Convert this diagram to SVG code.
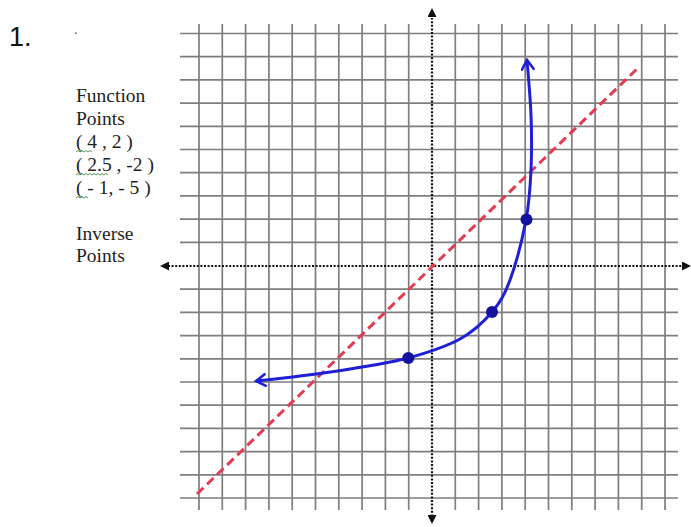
<svg xmlns="http://www.w3.org/2000/svg" width="691" height="527" viewBox="0 0 691 527">
<defs>
<style>
.grid line{stroke:#7e7e7e;stroke-width:1.7}
.axis{stroke:#111;stroke-width:2.2;stroke-dasharray:2 1.6;fill:none}
.lbl{font-family:"Liberation Serif","Times New Roman",serif;font-size:19.5px;fill:#1e1e1e}
.sq{stroke:#4f9a4f;stroke-width:1;fill:none}
</style>
<marker id="ah" viewBox="0 0 10 10" refX="10" refY="5" markerWidth="9" markerHeight="9" markerUnits="userSpaceOnUse" orient="auto"><path d="M0,0 L10,5 L0,10 Z" fill="#111"/></marker>
<marker id="bh" viewBox="0 0 12 12" refX="10" refY="6" markerWidth="14" markerHeight="14" markerUnits="userSpaceOnUse" orient="auto-start-reverse"><path d="M2,1 L10,6 L2,11" fill="none" stroke="#1f1fd6" stroke-width="2.2" stroke-linecap="round"/></marker>
</defs>
<rect width="691" height="527" fill="#fff"/>
<g id="grid" class="grid">
<line x1="199" y1="24" x2="199" y2="510"/><line x1="222.3" y1="24" x2="222.3" y2="510"/><line x1="245.6" y1="24" x2="245.6" y2="510"/><line x1="268.9" y1="24" x2="268.9" y2="510"/><line x1="292.2" y1="24" x2="292.2" y2="510"/><line x1="315.5" y1="24" x2="315.5" y2="510"/><line x1="338.8" y1="24" x2="338.8" y2="510"/><line x1="362.1" y1="24" x2="362.1" y2="510"/><line x1="385.4" y1="24" x2="385.4" y2="510"/><line x1="408.7" y1="24" x2="408.7" y2="510"/>
<line x1="455.3" y1="24" x2="455.3" y2="510"/><line x1="478.6" y1="24" x2="478.6" y2="510"/><line x1="501.9" y1="24" x2="501.9" y2="510"/><line x1="525.2" y1="24" x2="525.2" y2="510"/><line x1="548.5" y1="24" x2="548.5" y2="510"/><line x1="571.8" y1="24" x2="571.8" y2="510"/><line x1="595.1" y1="24" x2="595.1" y2="510"/><line x1="618.4" y1="24" x2="618.4" y2="510"/><line x1="641.7" y1="24" x2="641.7" y2="510"/><line x1="665" y1="24" x2="665" y2="510"/>
<line x1="180" y1="33.5" x2="678" y2="33.5"/><line x1="180" y1="56.7" x2="678" y2="56.7"/><line x1="180" y1="79.9" x2="678" y2="79.9"/><line x1="180" y1="103.1" x2="678" y2="103.1"/><line x1="180" y1="126.3" x2="678" y2="126.3"/><line x1="180" y1="149.5" x2="678" y2="149.5"/><line x1="180" y1="172.7" x2="678" y2="172.7"/><line x1="180" y1="195.9" x2="678" y2="195.9"/><line x1="180" y1="219.1" x2="678" y2="219.1"/><line x1="180" y1="242.3" x2="678" y2="242.3"/>
<line x1="180" y1="289.2" x2="678" y2="289.2"/><line x1="180" y1="312.4" x2="678" y2="312.4"/><line x1="180" y1="335.6" x2="678" y2="335.6"/><line x1="180" y1="358.8" x2="678" y2="358.8"/><line x1="180" y1="382" x2="678" y2="382"/><line x1="180" y1="405.2" x2="678" y2="405.2"/><line x1="180" y1="428.4" x2="678" y2="428.4"/><line x1="180" y1="451.6" x2="678" y2="451.6"/><line x1="180" y1="474.8" x2="678" y2="474.8"/><line x1="180" y1="498" x2="678" y2="498"/>
</g>
<g id="axes">
<line class="axis" x1="432" y1="520" x2="432" y2="18"/>
<line x1="432" y1="20" x2="432" y2="8" stroke="none" marker-end="url(#ah)"/>
<line x1="432" y1="512" x2="432" y2="524" stroke="none" marker-end="url(#ah)"/>
<line class="axis" x1="168" y1="266" x2="684" y2="266"/>
<line x1="172" y1="266" x2="160" y2="266" stroke="none" marker-end="url(#ah)"/>
<line x1="679" y1="266" x2="691" y2="266" stroke="none" marker-end="url(#ah)"/>
</g>
<g id="connectors">
<line id="inverse-line" x1="197" y1="494" x2="640" y2="66" stroke="#e23b52" stroke-width="3" stroke-dasharray="9 5"/>
<path id="function-curve" d="M256,381 C263.3,380.2 284.3,378 300,376 C315.7,374 332,372 350,369 C368,366 389.7,363 408,358 C426.3,353 446,346.7 460,339 C474,331.3 483.7,321.8 492,312 C500.3,302.2 504.3,295.3 510,280 C515.7,264.7 522.5,238.3 526,220 C529.5,201.7 530.2,187.5 531,170 C531.8,152.5 531.7,133.3 531,115 C530.3,96.7 527.7,69.2 527,60" fill="none" stroke="#1f1fd6" stroke-width="3" marker-start="url(#bh)" marker-end="url(#bh)"/>
</g>
<g id="point-a"><circle cx="408.3" cy="358" r="6" fill="#12129e"/></g>
<g id="point-b"><circle cx="492" cy="312" r="6" fill="#12129e"/></g>
<g id="point-c"><circle cx="526.5" cy="219.5" r="6" fill="#12129e"/></g>
<g id="labels">
<text x="9" y="46" font-family="'Liberation Sans',Arial,sans-serif" font-size="27" fill="#111">1.</text>
<text x="74" y="34" font-family="'Liberation Serif',serif" font-size="14" fill="#555">.</text>
<text class="lbl" x="76" y="102">Function</text>
<text class="lbl" x="76" y="125">Points</text>
<text class="lbl" x="76" y="148">( 4 , 2 )</text>
<text class="lbl" x="76" y="171">( 2.5 , -2 )</text>
<text class="lbl" x="76" y="194">( - 1, - 5 )</text>
<text class="lbl" x="76" y="240">Inverse</text>
<text class="lbl" x="76" y="262">Points</text>
<path class="sq" d="M76,152 l2,-1.5 l2,1.5 l2,-1.5 l2,1.5 l2,-1.5 l2,1.5 l2,-1.5 l2,1.5"/>
<path class="sq" d="M76,175 l2,-1.5 l2,1.5 l2,-1.5 l2,1.5 l2,-1.5 l2,1.5 l2,-1.5 l2,1.5 l2,-1.5 l2,1.5 l2,-1.5 l2,1.5 l2,-1.5 l2,1.5 l2,-1.5 l2,1.5"/>
<path class="sq" d="M76,198 l2,-1.5 l2,1.5 l2,-1.5 l2,1.5 l2,-1.5 l2,1.5"/>
</g>
</svg>
